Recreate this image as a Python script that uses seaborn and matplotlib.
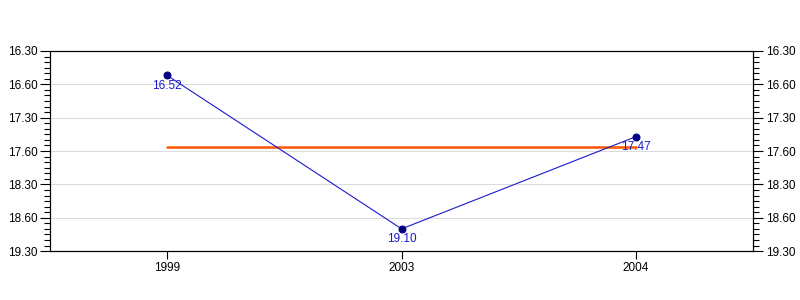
import matplotlib
matplotlib.use("Agg")
import matplotlib.pyplot as plt
import seaborn as sns
import pandas as pd
from matplotlib.ticker import FixedLocator, MultipleLocator

# Data (times as minutes.seconds)
years = ["1999", "2003", "2004"]
time_labels = ["16.52", "19.10", "17.47"]
mean_time = 17.94  # decimal minutes (average line)

tick_values = [16.5, 17.0, 17.5, 18.0, 18.5, 19.0, 19.5]
tick_labels = ["16.30", "16.60", "17.30", "17.60", "18.30", "18.60", "19.30"]

def to_minutes(s):
    m, sec = s.split(".")
    return int(m) + int(sec) / 60.0

values = [to_minutes(s) for s in time_labels]
df = pd.DataFrame({"year": years, "x": range(len(years)), "value": values})

sns.set_style("white")
plt.rcParams["font.family"] = ["Liberation Sans", "DejaVu Sans"]
plt.rcParams["xtick.color"] = "black"
plt.rcParams["ytick.color"] = "black"
plt.rcParams["xtick.labelcolor"] = "black"
plt.rcParams["ytick.labelcolor"] = "black"

fig = plt.figure(figsize=(8, 3), dpi=100)
ax = fig.add_axes([0.0625, 0.163, 0.879, 0.667])

for v in tick_values:
    ax.axhline(v, color="#dcdcdc", lw=0.8, zorder=0)

ax.plot([0, len(years) - 1], [mean_time, mean_time], color="#ff5500", lw=1.8, zorder=2)

sns.lineplot(data=df, x="x", y="value", ax=ax, color="#1a1acc", lw=0.8,
             marker="o", markersize=5, markerfacecolor="#000080",
             markeredgecolor="#000080", zorder=3, legend=False)

for xi, v, lab in zip(df["x"], values, time_labels):
    ax.annotate(lab, (xi, v), xytext=(0, -7.5), textcoords="offset points",
                ha="center", va="center", fontsize=8.5, color="#1a1acc", zorder=4)

ax.set_xlim(-0.5, 2.5)
ax.set_ylim(19.5, 16.5)
ax.set_xticks(df["x"])
ax.set_xticklabels(years)
ax.set_xlabel("")
ax.set_ylabel("")

ax.yaxis.set_major_locator(FixedLocator(tick_values))
ax.set_yticklabels(tick_labels)
ax.yaxis.set_minor_locator(MultipleLocator(1 / 12))

for s in ax.spines.values():
    s.set_visible(True)
    s.set_color("black")
    s.set_linewidth(0.8)

ax.tick_params(axis="y", which="major", direction="out", length=7, width=0.8,
               labelsize=8.5, left=True, labelleft=True, pad=2)
ax.tick_params(axis="y", which="minor", direction="out", length=4, width=0.8, left=True)
ax.tick_params(axis="x", which="major", direction="out", length=6, width=0.8,
               labelsize=8.5, bottom=True, pad=2)

ax2 = ax.twinx()
ax2.set_ylim(ax.get_ylim())
ax2.yaxis.set_major_locator(FixedLocator(tick_values))
ax2.set_yticklabels(tick_labels)
ax2.yaxis.set_minor_locator(MultipleLocator(1 / 12))
ax2.tick_params(axis="y", which="major", direction="out", length=7, width=0.8,
                labelsize=8.5, right=True, labelright=True, pad=2)
ax2.tick_params(axis="y", which="minor", direction="out", length=4, width=0.8, right=True)
for s in ax2.spines.values():
    s.set_color("black")
    s.set_linewidth(0.8)

fig.savefig("out.png", dpi=100)
